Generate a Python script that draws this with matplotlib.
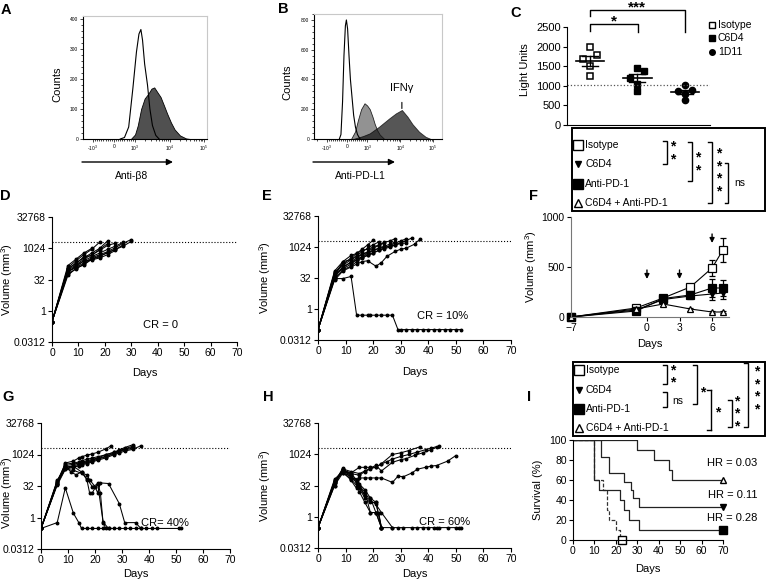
import numpy as np
import matplotlib
matplotlib.use("Agg")
import matplotlib.pyplot as plt
from matplotlib.ticker import NullLocator, FixedLocator, AutoMinorLocator

plt.rcParams["font.family"] = ["Liberation Sans", "DejaVu Sans"]
plt.rcParams["mathtext.fontset"] = "custom"
plt.rcParams["mathtext.rm"] = "Liberation Sans"
plt.rcParams["mathtext.it"] = "Liberation Sans:italic"

W, H = 766, 582

# ---------------------------------------------------------------------------
# Data
# ---------------------------------------------------------------------------
# A: anti-beta8 staining (fluorescence, counts)
a_iso_x = [300, 500, 700, 900, 1100, 1300, 1480, 1650, 1900, 2300, 2700, 3200, 4000, 5000]
a_iso_y = [0, 5, 40, 170, 290, 350, 365, 330, 250, 180, 100, 45, 12, 0]
a_ab_x = [800, 1000, 1200, 1500, 1900, 2400, 3000, 3600, 4500, 5500, 7000, 8500,
          11000, 14000, 20000, 30000, 40000]
a_ab_y = [0, 15, 45, 100, 135, 150, 168, 172, 155, 140, 110, 85, 55, 32, 12, 2, 0]

# B: anti-PD-L1 staining
b_iso_x = [-380, -300, -220, -150, -80, -30, 30, 100, 170, 250, 330, 420, 520, 650]
b_iso_y = [0, 30, 250, 560, 760, 800, 740, 560, 400, 280, 160, 80, 30, 0]
b_ctl_x = [200, 400, 550, 700, 870, 1000, 1200, 1450, 1700, 2000, 2400, 3300]
b_ctl_y = [0, 50, 130, 200, 240, 225, 200, 150, 100, 60, 30, 0]
b_ifn_x = [300, 800, 1200, 2300, 4700, 7400, 11300, 16700, 23600, 37500, 59000, 85000]
b_ifn_y = [0, 20, 38, 83, 139, 172, 195, 150, 100, 49, 15, 0]

# C: reporter light units
c_groups = ["Isotype", "C6D4", "1D11"]
c_iso = [2000, 1790, 1675, 1505, 1250]
c_c6d4 = [1450, 1390, 1200, 1050, 880]
c_1d11 = [1010, 890, 880, 800, 640]
c_thresh = 1010

# D, E, G, H: individual tumor volumes (days, mm3)
d_days = [[0, 6, 9, 12, 15], [0, 6, 9, 12, 15, 18], [0, 6, 9, 12, 15, 18, 21],
          [0, 6, 9, 12, 15, 18, 21, 24], [0, 6, 9, 12, 15, 18, 21, 24, 27],
          [0, 6, 9, 12, 15, 18, 21, 24, 27, 30], [0, 6, 9, 12, 15, 18, 21, 24, 27, 30],
          [0, 6, 9, 12, 15, 18, 21, 24], [0, 6, 9, 12, 15, 18, 21],
          [0, 6, 9, 12, 15, 18, 21, 24, 27]]
d_vols = [[0.3, 150, 300, 600, 1000], [0.3, 120, 250, 500, 900, 2000],
          [0.3, 100, 200, 350, 600, 1000, 2300], [0.3, 90, 160, 300, 500, 800, 1400, 1800],
          [0.3, 80, 130, 250, 400, 600, 900, 1300, 2000],
          [0.3, 75, 120, 200, 350, 500, 700, 1100, 1800, 2700],
          [0.3, 60, 100, 180, 300, 450, 600, 900, 1300, 2200],
          [0.3, 70, 150, 250, 280, 350, 500, 800], [0.3, 110, 180, 400, 450, 900, 1700],
          [0.3, 50, 110, 160, 300, 400, 650, 900, 1500]]

e_days = [[0, 6, 9, 12, 14, 16, 18, 19, 21, 23, 25, 27, 29, 30, 32, 34, 36, 38, 40, 42,
           44, 46, 48, 50, 52],
          [0, 6, 9, 12, 14, 16, 18, 20], [0, 6, 9, 12, 14, 16, 18, 20, 22],
          [0, 6, 9, 12, 14, 16, 18, 20, 22, 24], [0, 6, 9, 12, 14, 16, 18, 20, 22, 24, 26, 28],
          [0, 6, 9, 12, 14, 16, 18, 20, 22, 24, 26, 28, 30, 32],
          [0, 6, 9, 12, 14, 16, 18, 21, 23, 25, 28, 30, 32, 35, 37],
          [0, 6, 9, 12, 14, 16, 18, 20, 22, 24, 26, 28, 30, 32, 34],
          [0, 6, 9, 12, 14, 16, 18, 20, 22, 24, 26, 28],
          [0, 6, 9, 12, 14, 16, 18, 20, 22, 24, 26, 28, 30, 32]]
e_vols = [[0.1, 30, 30, 38, 0.5, 0.5, 0.5, 0.5, 0.5, 0.5, 0.5, 0.5, 0.1, 0.1, 0.1, 0.1, 0.1,
           0.1, 0.1, 0.1, 0.1, 0.1, 0.1, 0.1, 0.1],
          [0.1, 60, 150, 300, 500, 800, 1300, 2200], [0.1, 40, 200, 250, 400, 600, 900, 1300, 1800],
          [0.1, 50, 100, 200, 300, 450, 600, 900, 1200, 1600],
          [0.1, 45, 90, 150, 250, 350, 500, 700, 900, 1100, 1400, 1800],
          [0.1, 30, 80, 120, 200, 300, 400, 500, 700, 900, 1200, 1600, 2000, 2600],
          [0.1, 25, 70, 110, 150, 200, 220, 120, 180, 360, 630, 800, 900, 1400, 2500],
          [0.1, 35, 110, 180, 250, 330, 420, 550, 700, 850, 1000, 1300, 1700, 2100, 2800],
          [0.1, 70, 200, 400, 500, 700, 800, 1000, 1300, 1700, 2000, 2600],
          [0.1, 55, 130, 250, 350, 450, 550, 700, 850, 1000, 1100, 1300, 1500, 1600]]

g_days = [[0, 6, 9, 12, 14, 15, 17, 19, 21, 23, 25, 27, 29, 31, 33, 35, 37, 39, 41, 43, 51, 52],
          [0, 6, 9, 11, 13, 15, 17, 18, 19, 21, 22, 23, 24],
          [0, 6, 9, 12, 15, 17, 18, 20, 21, 22, 25, 29, 31, 35, 37],
          [0, 6, 9, 12, 15, 17, 19, 21, 23, 25],
          [0, 6, 9, 12, 14, 15, 17, 19, 21, 24, 26],
          [0, 6, 9, 12, 14, 15, 17, 19, 21, 24, 27, 29, 31, 34],
          [0, 6, 9, 12, 14, 15, 17, 19, 21, 24, 27, 29, 31, 34],
          [0, 6, 9, 12, 14, 15, 17, 19, 21, 24, 27, 29, 31, 34, 37],
          [0, 6, 9, 12, 14, 15, 17, 19, 21, 24, 27, 29, 31, 34],
          [0, 6, 9, 12, 14, 15, 17, 19, 21, 24, 27, 29, 31, 34]]
g_vols = [[0.3, 0.57, 26, 1.6, 0.57, 0.3, 0.3, 0.3, 0.3, 0.3, 0.3, 0.3, 0.3, 0.3, 0.3, 0.3,
           0.3, 0.3, 0.3, 0.3, 0.3, 0.3],
          [0.3, 40, 340, 150, 110, 150, 64, 15, 15, 45, 15, 0.55, 0.3],
          [0.3, 50, 200, 180, 130, 110, 64, 30, 15, 45, 42, 4.6, 0.57, 0.57, 0.3],
          [0.3, 60, 250, 280, 150, 70, 30, 40, 0.6, 0.3],
          [0.3, 45, 400, 500, 700, 800, 950, 1100, 1300, 1900, 2700],
          [0.3, 40, 300, 350, 400, 450, 500, 600, 700, 1000, 1300, 1700, 2200, 3000],
          [0.3, 50, 250, 300, 350, 400, 450, 550, 650, 850, 1200, 1500, 1800, 2300],
          [0.3, 35, 200, 250, 300, 330, 380, 450, 550, 700, 1000, 1200, 1500, 1800, 2700],
          [0.3, 55, 350, 400, 450, 520, 600, 700, 800, 1000, 1300, 1600, 1900, 2600],
          [0.3, 42, 220, 270, 300, 360, 420, 500, 600, 800, 1100, 1400, 1700, 2000]]

h_days = [[0, 6, 9, 12, 15, 17, 19, 21, 23, 27, 30, 33, 37],
          [0, 6, 9, 12, 15, 17, 19, 21, 23, 25, 27, 30, 33, 36, 39, 41, 43],
          [0, 6, 9, 12, 15, 17, 19, 21, 23, 27, 29, 31, 34, 36, 39, 41, 43, 47, 50],
          [0, 6, 9, 12, 15, 17, 19, 21, 23, 27, 30, 32, 35, 38, 41, 44],
          [0, 6, 9, 12, 14, 15, 17, 19, 21, 23],
          [0, 6, 9, 12, 14, 15, 17, 19, 21, 23],
          [0, 6, 9, 12, 14, 15, 17, 19, 21, 23, 27, 29, 31, 34, 36, 38, 40, 42, 43, 44, 47,
           50, 51, 52],
          [0, 6, 9, 12, 14, 15, 17, 19, 21, 23],
          [0, 6, 9, 12, 14, 15, 17, 19, 21, 22, 23],
          [0, 6, 9, 12, 14, 15, 17, 19, 21, 23, 27]]
h_vols = [[0.3, 45, 180, 130, 240, 240, 240, 240, 360, 1000, 1200, 1550, 2350],
          [0.3, 50, 150, 120, 100, 150, 200, 250, 350, 450, 600, 800, 1000, 1300, 1700, 2000, 2400],
          [0.3, 32, 128, 64, 74, 74, 74, 74, 74, 45, 90, 85, 128, 194, 240, 275, 294, 478, 890],
          [0.3, 40, 200, 150, 120, 160, 220, 300, 160, 420, 560, 630, 900, 1200, 1700, 2500],
          [0.3, 32, 181, 90, 45, 23, 8, 4.9, 4.9, 0.3],
          [0.3, 45, 220, 64, 32, 16, 4.9, 1.6, 1.6, 0.3],
          [0.3, 56, 128, 90, 56, 37, 20, 8, 1.6, 0.3, 0.3, 0.3, 0.3, 0.3, 0.3, 0.3, 0.3, 0.3,
           0.3, 0.3, 0.3, 0.3, 0.3, 0.3],
          [0.3, 64, 158, 56, 23, 32, 11, 8, 4.9, 0.3],
          [0.3, 40, 200, 100, 40, 30, 16, 1.6, 1.6, 1.6, 0.3],
          [0.3, 50, 170, 120, 60, 28, 10, 6, 4, 1.6, 0.3]]

cr_labels = {"D": "CR = 0", "E": "CR = 10%", "G": "CR= 40%", "H": "CR = 60%"}
vol_limit = 2000
log_ticks = [2 ** -5, 1, 32, 1024, 32768]
log_tick_labels = ["0.0312", "1", "32", "1024", "32768"]

# F: mean tumor volume (mm3) +/- SEM
f_days = [-7, -1, 1.5, 4, 6, 7]
f_iso = [0, 90, 190, 300, 490, 670]
f_iso_err = [0, 10, 15, 25, 80, 120]
f_c6d4 = [0, 70, 175, 210, 230, 240]
f_c6d4_err = [0, 10, 15, 30, 55, 60]
f_pd1 = [0, 60, 185, 220, 290, 290]
f_pd1_err = [0, 10, 20, 30, 90, 80]
f_combo = [0, 80, 130, 80, 50, 50]
f_combo_err = [0, 10, 15, 15, 10, 10]
f_dose_days = [0, 3, 6]
f_dose_top = [470, 470, 830]

# I: Kaplan-Meier survival (%)
i_iso_t = [0, 10, 14, 16, 17, 20, 22, 23]
i_iso_s = [100, 60, 50, 30, 20, 10, 0, 0]
i_c6d4_t = [0, 13, 17, 24, 27, 28, 31, 70]
i_c6d4_s = [100, 83, 67, 58, 50, 42, 33, 33]
i_pd1_t = [0, 10, 12, 22, 24, 26, 28, 31, 70]
i_pd1_s = [100, 60, 50, 40, 30, 20, 20, 10, 10]
i_combo_t = [0, 30, 38, 45, 46, 70]
i_combo_s = [100, 90, 80, 70, 60, 60]
i_hr = ["HR = 0.03", "HR = 0.11", "HR = 0.28"]
i_hr_y = [77, 45, 22]

legend_names = ["Isotype", "C6D4", "Anti-PD-1", "C6D4 + Anti-PD-1"]

# ---------------------------------------------------------------------------
fig = plt.figure(figsize=(W / 100, H / 100), dpi=100)


def px_axes(x0, y0, x1, y1):
    return fig.add_axes([x0 / W, 1 - y1 / H, (x1 - x0) / W, (y1 - y0) / H])


def tidy(ax, fs=7.5):
    for s in ("top", "right"):
        ax.spines[s].set_visible(False)
    ax.tick_params(direction="out", length=3, width=0.8, labelsize=fs, pad=1.5)


def label_at(ax, box, xc=None, yc=None, ylab_frac=0.5):
    # centre the axis labels on given figure pixel positions
    x0, y0, x1, y1 = box
    if xc is not None:
        ax.yaxis.set_label_coords((xc + 5 - x0) / (x1 - x0), ylab_frac)
    if yc is not None:
        ax.xaxis.set_label_coords(0.5, (y1 - (yc - 5)) / (y1 - y0))


# ---- A / B histograms ------------------------------------------------------
def flow_axes(box, xlim, ylim, yticks):
    ax = px_axes(*box)
    ax.set_xscale("symlog", linthresh=1000, linscale=0.55)
    ax.set_xlim(*xlim)
    ax.set_ylim(*ylim)
    ax.set_xticks([-1000, 0, 1000, 10000, 100000])
    ax.set_xticklabels([r"-10$^3$", "0", r"10$^3$", r"10$^4$", r"10$^5$"])
    minors = ([-v for v in range(100, 1000, 100)] + list(range(100, 1000, 100))
              + [m * 10 ** k for k in (3, 4) for m in range(2, 10)] + [-2000])
    ax.xaxis.set_minor_locator(FixedLocator(minors))
    ax.set_yticks(yticks)
    ax.yaxis.set_minor_locator(AutoMinorLocator(5))
    ax.tick_params(which="both", direction="out", labelsize=3.5, pad=1, width=0.5)
    ax.tick_params(which="major", length=2.5)
    ax.tick_params(which="minor", length=1.3)
    for s in ("top", "right"):
        ax.spines[s].set_color("#c8c8c8")
    for s in ("left", "bottom"):
        ax.spines[s].set_linewidth(0.8)
    return ax


ax = flow_axes((83, 16, 207, 139), (-1930, 1.22e5), (0, 410), [0, 100, 200, 300, 400])
ax.fill_between(a_ab_x, a_ab_y, color="#505050", lw=0.6, edgecolor="k")
ax.plot(a_iso_x, a_iso_y, color="k", lw=0.8)

ax = flow_axes((314, 14, 442, 139), (-2450, 1.86e5), (0, 840), [0, 200, 400, 600, 800])
ax.fill_between(b_ctl_x, b_ctl_y, color="#929292", lw=0.6, edgecolor="#222222")
ax.fill_between(b_ifn_x, b_ifn_y, color="#151515", alpha=0.72, lw=0.6, edgecolor="k")
ax.plot(b_iso_x, b_iso_y, color="k", lw=0.8)
ax.annotate("IFN\u03b3", xy=(11300, 205), xytext=(11300, 345), ha="center", va="center",
            fontsize=8, arrowprops=dict(arrowstyle="-", lw=0.8, shrinkA=5, shrinkB=0))

# ---- C -----------------------------------------------------------------------
ax = px_axes(567, 27, 710, 125)
tidy(ax, 8)
ax.set_xlim(-0.48, 2.53)
ax.set_ylim(0, 2500)
ax.set_yticks([0, 500, 1000, 1500, 2000, 2500])
ax.set_xticks([])
jit = [0.0, 0.15, -0.15, 0.0, 0.0]
c_styles = [dict(marker="s", mfc="white", mec="k", mew=1.1, ms=4.5),
            dict(marker="s", mfc="k", mec="k", ms=4.5),
            dict(marker="o", mfc="k", mec="k", ms=4.5)]
for i, vals in enumerate([c_iso, c_c6d4, c_1d11]):
    vals = np.array(vals, float)
    ax.plot(i + np.array(jit), vals, ls="none", **c_styles[i])
    m = vals.mean()
    sem = vals.std(ddof=1) / np.sqrt(len(vals))
    ax.plot([i - 0.3, i + 0.3], [m, m], color="k", lw=1.2)
    ax.plot([i, i], [m - sem, m + sem], color="k", lw=1.0)
    ax.plot([i - 0.17, i + 0.17], [m + sem, m + sem], color="k", lw=1.0)
    ax.plot([i - 0.17, i + 0.17], [m - sem, m - sem], color="k", lw=1.0)
ax.axhline(c_thresh, ls=":", color="#555555", lw=0.9)


# ---- D E G H -----------------------------------------------------------------
def tumor_panel(box, days, vols, cr_text, cr_xy, ylab_x, xlab_y, ylab_frac=0.5):
    ax = px_axes(*box)
    tidy(ax, 7.5)
    for d, v in zip(days, vols):
        ax.plot(d, v, color="k", lw=0.75, marker="o", ms=1.8)
    ax.set_yscale("log", base=2)
    ax.set_ylim(2 ** -5, 2 ** 15)
    ax.set_yticks(log_ticks)
    ax.set_yticklabels(log_tick_labels)
    ax.yaxis.set_minor_locator(NullLocator())
    ax.set_xlim(0, 70)
    ax.set_xticks(range(0, 71, 10))
    ax.axhline(vol_limit, ls=":", color="k", lw=0.8)
    ax.text(cr_xy[0], cr_xy[1], cr_text, ha="center", va="center", fontsize=8)
    ax.set_xlabel("Days", fontsize=8)
    ax.set_ylabel("Volume (mm$^3$)", fontsize=8)
    label_at(ax, box, ylab_x, xlab_y, ylab_frac)
    return ax


tumor_panel((52, 217, 237, 342), d_days, d_vols, cr_labels["D"], (41, 2 ** -2.3), 10, 373)
tumor_panel((318, 216, 511, 340), e_days, e_vols, cr_labels["E"], (45, 2 ** -1.1), 268, 372)
tumor_panel((41, 423, 230, 549), g_days, g_vols, cr_labels["G"], (46, 2 ** -0.9), 10, 574,
            ylab_frac=0.45)
tumor_panel((318, 423, 511, 548), h_days, h_vols, cr_labels["H"], (46, 2 ** -0.9), 268, 574)

# ---- F -----------------------------------------------------------------------
box_f = (571, 217, 729, 317)
ax = px_axes(*box_f)
tidy(ax, 7.5)
for s in ("left", "bottom"):
    ax.spines[s].set_color("#777777")
ax.set_xlim(-7, 7.56)
ax.set_ylim(0, 1000)
ax.set_xticks([-7, 0, 3, 6])
ax.set_yticks([0, 500, 1000])
f_series = [(f_iso, f_iso_err, dict(marker="s", mfc="white", ms=5.5)),
            (f_c6d4, f_c6d4_err, dict(marker="v", mfc="k", ms=5)),
            (f_pd1, f_pd1_err, dict(marker="s", mfc="k", ms=5.5)),
            (f_combo, f_combo_err, dict(marker="^", mfc="white", ms=5))]
for vals, err, st in f_series:
    ax.errorbar(f_days, vals, yerr=err, color="k", lw=0.8, capsize=2.5, elinewidth=0.9,
                mec="k", mew=0.9, clip_on=False, **st)
for d, top in zip(f_dose_days, f_dose_top):
    ax.annotate("", xy=(d, top - 90), xytext=(d, top),
                arrowprops=dict(arrowstyle="-|>", color="k", lw=1.0, mutation_scale=7,
                                shrinkA=0, shrinkB=0))
ax.set_xlabel("Days", fontsize=8)
ax.set_ylabel("Volume (mm$^3$)", fontsize=8)
label_at(ax, box_f, 534, 344)

# ---- I -----------------------------------------------------------------------
box_i = (573, 440, 723, 540)
ax = px_axes(*box_i)
tidy(ax, 7.5)
ax.set_xlim(0, 70)
ax.set_ylim(0, 100)
ax.set_xticks(range(0, 71, 10))
ax.set_yticks(range(0, 101, 20))
ax.step(i_iso_t, i_iso_s, where="post", color="#333333", lw=0.9, ls=(0, (3, 1.5)))
ax.step(i_c6d4_t, i_c6d4_s, where="post", color="#222222", lw=0.9)
ax.step(i_pd1_t, i_pd1_s, where="post", color="#222222", lw=0.9)
ax.step(i_combo_t, i_combo_s, where="post", color="#222222", lw=0.9)
ax.plot(i_iso_t[-1], i_iso_s[-1], marker="s", mfc="white", mec="k", ms=6, clip_on=False)
ax.plot(i_combo_t[-1], i_combo_s[-1], marker="^", mfc="white", mec="k", ms=5, clip_on=False)
ax.plot(i_c6d4_t[-1], i_c6d4_s[-1], marker="v", mfc="k", mec="k", ms=5, clip_on=False)
ax.plot(i_pd1_t[-1], i_pd1_s[-1], marker="s", mfc="k", mec="k", ms=5.5, clip_on=False)
for txt, yv in zip(i_hr, i_hr_y):
    ax.text(86, yv, txt, ha="right", va="center", fontsize=8, clip_on=False)
ax.set_xlabel("Days", fontsize=8)
ax.set_ylabel("Survival (%)", fontsize=8)
label_at(ax, box_i, 538, 569)

# ---------------------------------------------------------------------------
# Overlay in pixel coordinates for labels, arrows, legends and brackets
# ---------------------------------------------------------------------------
ov = fig.add_axes([0, 0, 1, 1], zorder=10)
ov.set_xlim(0, W)
ov.set_ylim(H, 0)
ov.axis("off")

for letter, (x, y) in {"A": (1, 3), "B": (278, 2), "C": (510, 6), "D": (0, 189),
                       "E": (262, 189), "F": (529, 189), "G": (2, 390), "H": (263, 390),
                       "I": (527, 390)}.items():
    ov.text(x, y, letter, fontsize=10.5, fontweight="bold", ha="left", va="top")

ov.text(57, 84, "Counts", rotation=90, fontsize=8, ha="center", va="center")
ov.text(287, 82, "Counts", rotation=90, fontsize=8, ha="center", va="center")
for x0, x1, lab, xc in [(82, 173, "Anti-\u03b28", 132), (313, 395, "Anti-PD-L1", 360)]:
    ov.annotate("", xy=(x1, 162), xytext=(x0, 162),
                arrowprops=dict(arrowstyle="-|>", color="k", lw=1.0, mutation_scale=9,
                                shrinkA=0, shrinkB=0))
    ov.text(xc, 176, lab, fontsize=7.5, ha="center", va="center")
ov.text(525, 70, "Light Units", rotation=90, fontsize=8, ha="center", va="center")


def star_col(x, y_first, n, step=9.0, fs=10):
    # a column of asterisks drawn as one text; y_first is the centre of the top star
    em = fs * 100 / 72
    y_last = y_first + (n - 1) * step
    ov.text(x, y_last + 0.55 * em, "\n".join(["*"] * n), fontsize=fs, fontweight="bold",
            ha="center", va="baseline", multialignment="center",
            linespacing=step / (0.73 * em))


def bracket(x, y0, y1, tick=4, lw=1.0):
    ov.plot([x - tick, x, x, x - tick], [y0, y0, y1, y1], color="k", lw=lw,
            solid_joinstyle="miter")


# C significance
ov.plot([590, 590, 638, 638], [31, 24, 24, 32], color="k", lw=1.0)
ov.plot([590, 590, 685, 685], [16, 10, 10, 32], color="k", lw=1.0)
ov.text(614, 17 + 0.55 * 11 * 100 / 72, "*", fontsize=11, fontweight="bold", ha="center",
        va="baseline")
ov.text(637, 3 + 0.55 * 11 * 100 / 72, "***", fontsize=11, fontweight="bold",
        ha="center", va="baseline")
for (mk, st), yy, name in zip([("s", dict(mfc="white", mew=1.0)), ("s", dict(mfc="k")),
                               ("o", dict(mfc="k"))], [25, 38, 52], c_groups):
    ov.plot(712, yy, marker=mk, mec="k", ms=4, ls="none", **st)
    ov.text(718, yy, name, fontsize=7.5, ha="left", va="center")

leg_markers = [dict(marker="s", mfc="white", ms=6.5), dict(marker="v", mfc="k", ms=5),
               dict(marker="s", mfc="k", ms=6.5), dict(marker="^", mfc="white", ms=6)]


def legend_box(x0, y0, x1, y1, rows):
    ov.add_patch(plt.Rectangle((x0, y0), x1 - x0, y1 - y0, fill=False, lw=1.4,
                               edgecolor="k"))
    for st, yy, name in zip(leg_markers, rows, legend_names):
        ov.plot(x0 + 6, yy, ls="none", mec="k", mew=1.0, **st)
        ov.text(x0 + 13, yy, name, fontsize=7.5, ha="left", va="center")


# F legend + comparisons
legend_box(572, 128, 765, 211, [145, 164, 184, 203])
bracket(667, 141, 164)
star_col(673, 147, 2)
bracket(692, 142, 181)
star_col(698, 158, 2)
bracket(712, 142, 203)
star_col(719, 161, 4)
bracket(728, 163, 203, tick=3)
ov.text(740, 183, "ns", fontsize=7.5, ha="center", va="center")

# I legend + comparisons
legend_box(573, 362, 765, 436, [370, 390, 409, 428])
bracket(667, 365, 384)
star_col(673, 371, 2, step=8)
bracket(667, 392, 407)
ov.text(678, 401, "ns", fontsize=7.5, ha="center", va="center")
bracket(697, 365, 404)
star_col(703, 389, 1)
ov.plot([707, 711], [390, 390], color="k", lw=1.0)
bracket(711, 390, 430, tick=0)
ov.plot([707, 711], [430, 430], color="k", lw=1.0)
star_col(718, 409, 1)
bracket(732, 400, 427)
star_col(737, 405, 3)
bracket(748, 363, 427)
star_col(757, 379, 4)

fig.savefig("out.png", dpi=100)
